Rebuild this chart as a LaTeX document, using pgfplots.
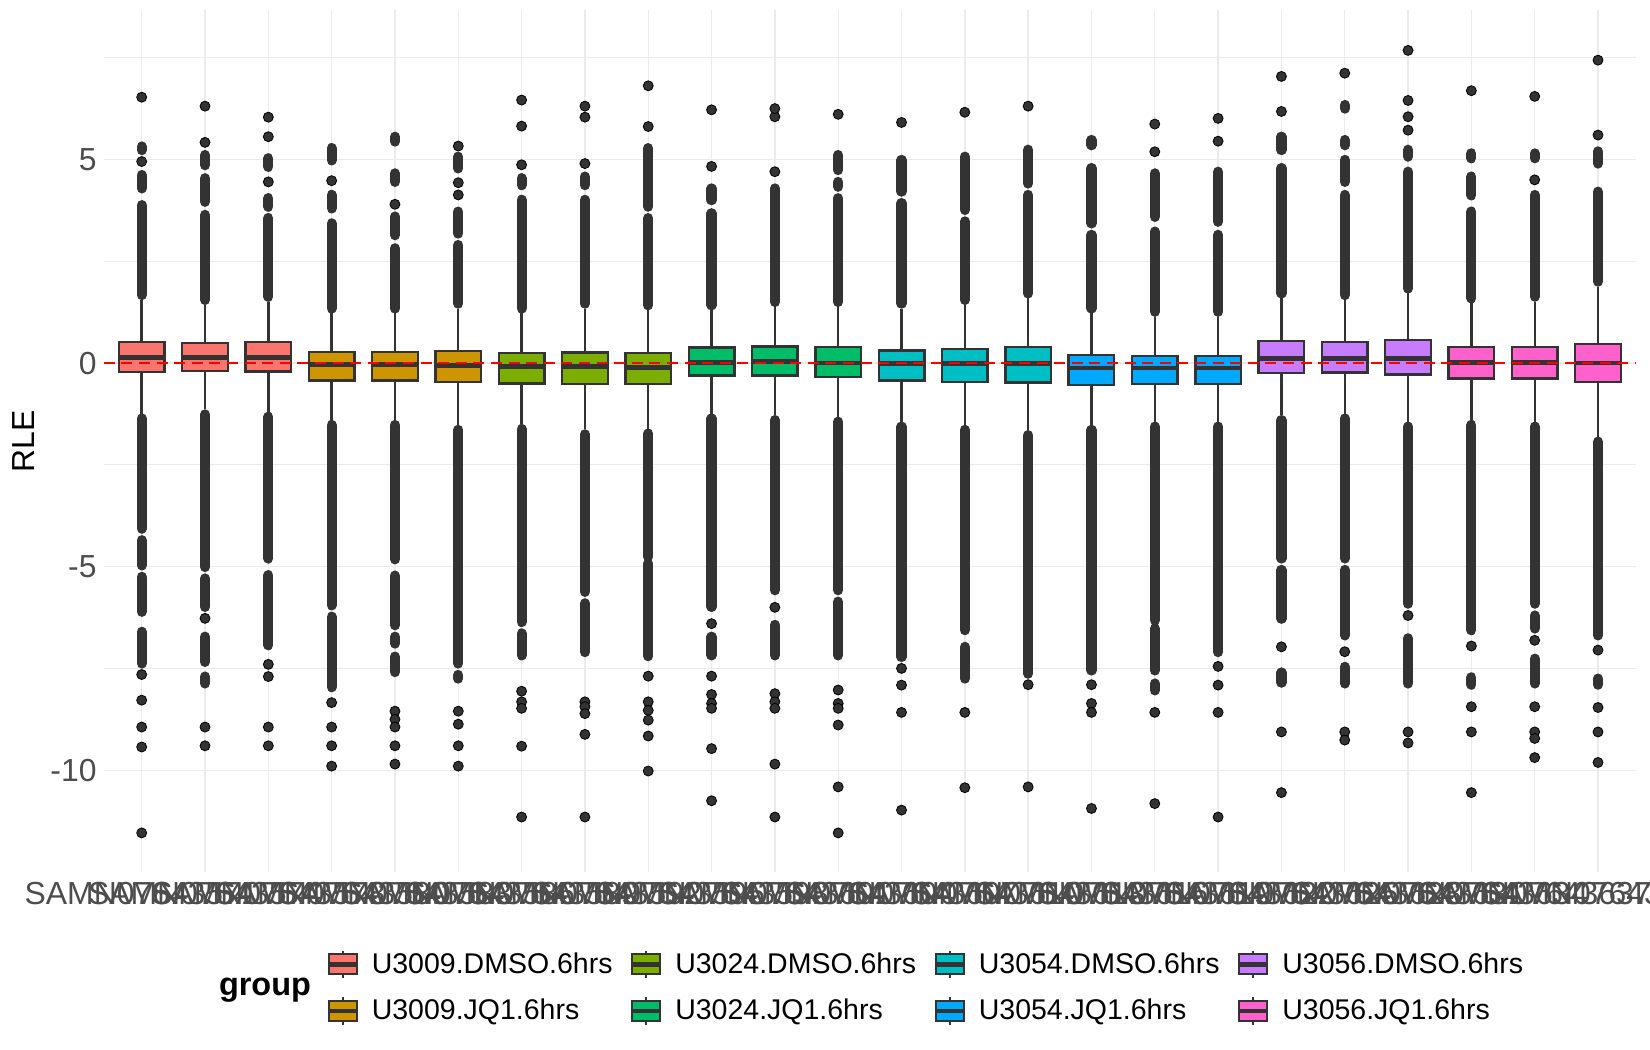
\documentclass[border=0pt]{standalone}
\usepackage{pgfplots}
\pgfplotsset{compat=1.18}
\usepgfplotslibrary{statistics}
\usepackage{fontspec}
\setmainfont{Liberation Sans}
\definecolor{c1}{HTML}{F8766D}
\definecolor{c2}{HTML}{CD9600}
\definecolor{c3}{HTML}{7CAE00}
\definecolor{c4}{HTML}{00BE67}
\definecolor{c5}{HTML}{00BFC4}
\definecolor{c6}{HTML}{00A9FF}
\definecolor{c7}{HTML}{C77CFF}
\definecolor{c8}{HTML}{FF61CC}
\definecolor{g20}{HTML}{333333}
\definecolor{g30}{HTML}{4D4D4D}
\definecolor{g92}{HTML}{EBEBEB}
% draw position, fill, lower whisker, lower quartile, median, upper quartile, upper whisker
\newcommand{\bx}[7]{\addplot[draw=g20, fill=#2, line width=1.2bp, forget plot,
  boxplot prepared={draw direction=y, draw position=#1, lower whisker=#3, lower quartile=#4, median=#5,
  upper quartile=#6, upper whisker=#7, box extend=0.72, whisker extend=0}] coordinates {};}
\pgfplotsset{
  seg/.style={draw=g20, line width=5.1bp, line cap=round, unbounded coords=jump, forget plot},
  dots/.style={only marks, mark=*, mark size=2.5bp, mark options={draw=none, fill=g20}, forget plot},
  boxleg/.style={legend image code/.code={
    \draw[draw=g20, line width=1.1bp] (7bp,5bp) -- (7bp,6.9bp) (7bp,-5bp) -- (7bp,-6.9bp);
    \draw[##1, draw=g20, line width=1.1bp] (0bp,-5bp) rectangle (14bp,5bp);
    \draw[draw=g20, line width=2.2bp] (0bp,0bp) -- (14bp,0bp);
  }},
}
\begin{document}
\begin{tikzpicture}
\useasboundingbox (0,0) rectangle (825bp,525bp);
\begin{axis}[
  at={(51.85bp,519.75bp)}, anchor=north west,
  scale only axis, width=766.15bp, height=430.75bp,
  xmin=0.4, xmax=24.6, ymin=-12.5, ymax=8.66,
  axis line style={draw=none},
  major tick length=0pt, minor tick length=0pt,
  xtick={1,...,24},
  xticklabels={SAMN07643571,SAMN07643574,SAMN07643578,SAMN07643580,SAMN07643583,SAMN07643586,SAMN07643589,SAMN07643592,SAMN07643595,SAMN07643598,SAMN07643601,SAMN07643604,SAMN07643607,SAMN07643610,SAMN07643613,SAMN07643616,SAMN07643619,SAMN07643622,SAMN07643625,SAMN07643628,SAMN07643631,SAMN07643634,SAMN07643637,SAMN07643640},
  ytick={-10,-5,0,5}, yticklabels={-10,-5,0,5},
  minor ytick={-7.5,-2.5,2.5,7.5},
  xmajorgrids, ymajorgrids, yminorgrids,
  major grid style={draw=g92, line width=0.7bp},
  minor grid style={draw=g92, line width=0.5bp},
  tick label style={font=\fontsize{16}{19}\selectfont, text=g30},
  xticklabel style={anchor=north, inner sep=0pt, yshift=-5bp},
  yticklabel style={anchor=east, inner sep=0pt, xshift=-3.4bp},
  ylabel={RLE},
  every axis y label/.style={at={(axis description cs:-0.052,0.5)}, rotate=90, anchor=center, font=\fontsize{16}{19}\selectfont},
  boxplot/draw direction=y,
  boxplot/every median/.style={line width=2.4bp},
  legend columns=4,
  legend cell align=left,
  legend style={at={(axis description cs:0.1451,-0.0894)}, anchor=north west, draw=none, fill=none,
    inner sep=0pt, column sep=6.5bp, row sep=8.5bp, font=\fontsize{14.3}{17}\selectfont,
    nodes={inner sep=0pt},
    /tikz/every even column/.append style={column sep=8.7bp}},
]
% boxes
\bx{1}{c1}{-1.24}{-0.22}{0.13}{0.52}{1.55}
\bx{2}{c1}{-1.14}{-0.20}{0.13}{0.50}{1.43}
\bx{3}{c1}{-1.20}{-0.21}{0.13}{0.52}{1.51}
\bx{4}{c2}{-1.40}{-0.43}{-0.04}{0.27}{1.22}
\bx{5}{c2}{-1.40}{-0.43}{-0.04}{0.27}{1.22}
\bx{6}{c2}{-1.52}{-0.47}{-0.05}{0.29}{1.34}
\bx{7}{c3}{-1.50}{-0.50}{-0.09}{0.24}{1.22}
\bx{8}{c3}{-1.63}{-0.52}{-0.09}{0.26}{1.34}
\bx{9}{c3}{-1.61}{-0.52}{-0.10}{0.25}{1.30}
\bx{10}{c4}{-1.24}{-0.31}{0.02}{0.38}{1.30}
\bx{11}{c4}{-1.28}{-0.31}{0.03}{0.41}{1.38}
\bx{12}{c4}{-1.32}{-0.34}{0.00}{0.39}{1.38}
\bx{13}{c5}{-1.44}{-0.43}{-0.01}{0.31}{1.34}
\bx{14}{c5}{-1.52}{-0.46}{-0.01}{0.34}{1.43}
\bx{15}{c5}{-1.65}{-0.48}{-0.01}{0.39}{1.59}
\bx{16}{c6}{-1.52}{-0.54}{-0.12}{0.20}{1.22}
\bx{17}{c6}{-1.44}{-0.52}{-0.12}{0.18}{1.14}
\bx{18}{c6}{-1.44}{-0.52}{-0.12}{0.18}{1.14}
\bx{19}{c7}{-1.28}{-0.24}{0.11}{0.54}{1.59}
\bx{20}{c7}{-1.24}{-0.23}{0.11}{0.52}{1.55}
\bx{21}{c7}{-1.44}{-0.28}{0.12}{0.57}{1.71}
\bx{22}{c8}{-1.40}{-0.38}{0.02}{0.40}{1.47}
\bx{23}{c8}{-1.44}{-0.38}{0.02}{0.40}{1.51}
\bx{24}{c8}{-1.81}{-0.47}{0.00}{0.47}{1.88}
% dense runs of outliers
\addplot[seg] coordinates {(1,1.67)(1,3.88)(1,nan)(1,4.29)(1,4.62)(1,nan)(1,5.23)(1,5.32)(1,nan)(1,-1.36)(1,-4.07)(1,nan)(1,-4.35)(1,-4.97)(1,nan)(1,-5.25)(1,-6.11)(1,nan)(1,-6.6)(1,-7.38)};
\addplot[seg] coordinates {(2,1.55)(2,3.64)(2,nan)(2,3.96)(2,4.54)(2,nan)(2,4.86)(2,5.11)(2,nan)(2,-1.26)(2,-5.01)(2,nan)(2,-5.29)(2,-5.99)(2,nan)(2,-6.72)(2,-7.34)(2,nan)(2,-7.7)(2,-7.87)};
\addplot[seg] coordinates {(3,1.63)(3,3.56)(3,nan)(3,3.84)(3,4.05)(3,nan)(3,4.82)(3,5.03)(3,nan)(3,-1.32)(3,-4.8)(3,nan)(3,-5.21)(3,-6.93)};
\addplot[seg] coordinates {(4,1.34)(4,3.43)(4,nan)(4,3.8)(4,4.13)(4,nan)(4,4.98)(4,5.28)(4,nan)(4,-1.52)(4,-5.95)(4,nan)(4,-6.23)(4,-7.96)};
\addplot[seg] coordinates {(5,1.34)(5,2.82)(5,nan)(5,3.14)(5,3.6)(5,nan)(5,4.45)(5,4.66)(5,nan)(5,5.44)(5,5.56)(5,nan)(5,-1.52)(5,-4.82)(5,nan)(5,-5.22)(5,-6.44)(5,nan)(5,-6.72)(5,-6.89)(5,nan)(5,-7.21)(5,-7.59)};
\addplot[seg] coordinates {(6,1.46)(6,2.9)(6,nan)(6,3.18)(6,3.72)(6,nan)(6,4.78)(6,5.07)(6,nan)(6,-1.64)(6,-7.38)(6,nan)(6,-7.66)(6,-7.75)};
\addplot[seg] coordinates {(7,1.34)(7,4.01)(7,nan)(7,4.37)(7,4.54)(7,nan)(7,-1.62)(7,-6.36)(7,nan)(7,-6.64)(7,-7.18)};
\addplot[seg] coordinates {(8,1.46)(8,4.01)(8,nan)(8,4.37)(8,4.58)(8,nan)(8,-1.75)(8,-5.62)(8,nan)(8,-5.9)(8,-7.1)};
\addplot[seg] coordinates {(9,1.42)(9,3.56)(9,nan)(9,3.84)(9,5.28)(9,nan)(9,-1.73)(9,-4.76)(9,nan)(9,-4.92)(9,-7.2)};
\addplot[seg] coordinates {(10,1.42)(10,3.68)(10,nan)(10,4.0)(10,4.29)(10,nan)(10,-1.36)(10,-5.99)(10,nan)(10,-6.72)(10,-7.18)};
\addplot[seg] coordinates {(11,1.5)(11,4.29)(11,nan)(11,-1.4)(11,-5.58)(11,nan)(11,-6.43)(11,-7.18)};
\addplot[seg] coordinates {(12,1.5)(12,4.05)(12,nan)(12,4.33)(12,4.45)(12,nan)(12,4.74)(12,5.11)(12,nan)(12,-1.44)(12,-5.58)(12,nan)(12,-5.86)(12,-7.18)};
\addplot[seg] coordinates {(13,1.46)(13,3.93)(13,nan)(13,4.21)(13,4.99)(13,nan)(13,-1.56)(13,-7.22)};
\addplot[seg] coordinates {(14,1.55)(14,3.48)(14,nan)(14,3.76)(14,5.07)(14,nan)(14,-1.64)(14,-6.56)(14,nan)(14,-6.97)(14,-7.75)};
\addplot[seg] coordinates {(15,1.71)(15,4.13)(15,nan)(15,4.41)(15,5.24)(15,nan)(15,-1.77)(15,-7.63)};
\addplot[seg] coordinates {(16,1.34)(16,3.15)(16,nan)(16,3.43)(16,4.79)(16,nan)(16,5.35)(16,5.48)(16,nan)(16,-1.64)(16,-7.55)};
\addplot[seg] coordinates {(17,1.26)(17,3.23)(17,nan)(17,3.59)(17,4.66)(17,nan)(17,-1.56)(17,-6.32)(17,nan)(17,-6.52)(17,-7.55)(17,nan)(17,-7.87)(17,-8.04)};
\addplot[seg] coordinates {(18,1.26)(18,3.15)(18,nan)(18,3.47)(18,4.7)(18,nan)(18,-1.56)(18,-7.1)};
\addplot[seg] coordinates {(19,1.71)(19,4.79)(19,nan)(19,5.23)(19,5.56)(19,nan)(19,-1.4)(19,-4.8)(19,nan)(19,-5.08)(19,-6.28)(19,nan)(19,-7.6)(19,-7.85)};
\addplot[seg] coordinates {(20,1.67)(20,4.13)(20,nan)(20,4.45)(20,4.99)(20,nan)(20,5.35)(20,5.48)(20,nan)(20,6.25)(20,6.34)(20,nan)(20,-1.36)(20,-4.8)(20,nan)(20,-5.08)(20,-6.69)(20,nan)(20,-7.46)(20,-7.87)};
\addplot[seg] coordinates {(21,1.83)(21,4.7)(21,nan)(21,5.07)(21,5.24)(21,nan)(21,-1.56)(21,-5.91)(21,nan)(21,-6.76)(21,-7.87)};
\addplot[seg] coordinates {(22,1.59)(22,3.72)(22,nan)(22,4.12)(22,4.58)(22,nan)(22,5.03)(22,5.15)(22,nan)(22,-1.52)(22,-6.56)(22,nan)(22,-7.72)(22,-7.9)};
\addplot[seg] coordinates {(23,1.63)(23,4.13)(23,nan)(23,5.03)(23,5.15)(23,nan)(23,-1.56)(23,-5.91)(23,nan)(23,-6.2)(23,-6.52)(23,nan)(23,-7.26)(23,-7.87)};
\addplot[seg] coordinates {(24,2.0)(24,4.21)(24,nan)(24,4.9)(24,5.2)(24,nan)(24,-1.93)(24,-6.69)(24,nan)(24,-7.75)(24,-7.9)};
% isolated outliers
\addplot[dots] coordinates {
(1,4.95)(1,6.53)(1,-7.65)(1,-8.28)(1,-8.94)(1,-9.43)(1,-11.54)
(2,5.42)(2,6.31)(2,-6.27)(2,-8.94)(2,-9.40)
(3,4.45)(3,5.56)(3,6.04)(3,-7.4)(3,-7.7)(3,-8.94)(3,-9.40)
(4,4.48)(4,-8.34)(4,-8.94)(4,-9.40)(4,-9.90)
(5,3.9)(5,-8.55)(5,-8.75)(5,-8.94)(5,-9.40)(5,-9.85)
(6,4.13)(6,4.43)(6,5.33)(6,-8.55)(6,-8.87)(6,-9.40)(6,-9.90)
(7,4.87)(7,5.82)(7,6.46)(7,-8.06)(7,-8.32)(7,-8.48)(7,-9.41)(7,-11.15)
(8,4.9)(8,6.04)(8,6.31)(8,-8.32)(8,-8.44)(8,-8.61)(8,-9.12)(8,-11.15)
(9,5.81)(9,6.81)(9,-7.69)(9,-8.32)(9,-8.53)(9,-8.77)(9,-9.16)(9,-10.02)
(10,4.83)(10,6.22)(10,-6.4)(10,-7.69)(10,-8.14)(10,-8.36)(10,-8.48)(10,-9.47)(10,-10.75)
(11,4.7)(11,6.05)(11,6.25)(11,-6.0)(11,-8.12)(11,-8.32)(11,-8.48)(11,-9.85)(11,-11.15)
(12,6.11)(12,-8.03)(12,-8.36)(12,-8.48)(12,-8.89)(12,-10.41)(12,-11.54)
(13,5.91)(13,-7.5)(13,-7.91)(13,-8.58)(13,-10.98)
(14,6.16)(14,-8.58)(14,-10.43)
(15,6.31)(15,-7.9)(15,-10.41)
(16,-7.9)(16,-8.36)(16,-8.58)(16,-10.94)
(17,5.19)(17,5.87)(17,-8.58)(17,-10.82)
(18,5.45)(18,6.01)(18,-7.45)(18,-7.91)(18,-8.58)(18,-11.15)
(19,6.18)(19,7.04)(19,-6.97)(19,-9.06)(19,-10.55)
(20,7.12)(20,-7.09)(20,-9.06)(20,-9.26)
(21,5.72)(21,6.05)(21,6.45)(21,7.68)(21,-6.2)(21,-9.06)(21,-9.33)
(22,6.69)(22,-6.95)(22,-8.44)(22,-9.06)(22,-10.55)
(23,4.5)(23,6.55)(23,-6.81)(23,-8.44)(23,-9.06)(23,-9.22)(23,-9.69)
(24,5.6)(24,7.44)(24,-7.05)(24,-8.46)(24,-9.06)(24,-9.81)
};
% reference line at zero
\addplot[draw=red, line width=1.4bp, dash pattern=on 5.5bp off 3.3bp, forget plot] coordinates {(0.4,0) (24.6,0)};
% legend
\addlegendimage{boxleg, fill=c1}\addlegendentry{U3009.DMSO.6hrs}
\addlegendimage{boxleg, fill=c3}\addlegendentry{U3024.DMSO.6hrs}
\addlegendimage{boxleg, fill=c5}\addlegendentry{U3054.DMSO.6hrs}
\addlegendimage{boxleg, fill=c7}\addlegendentry{U3056.DMSO.6hrs}
\addlegendimage{boxleg, fill=c2}\addlegendentry{U3009.JQ1.6hrs}
\addlegendimage{boxleg, fill=c4}\addlegendentry{U3024.JQ1.6hrs}
\addlegendimage{boxleg, fill=c6}\addlegendentry{U3054.JQ1.6hrs}
\addlegendimage{boxleg, fill=c8}\addlegendentry{U3056.JQ1.6hrs}
\end{axis}
\node[font=\bfseries\fontsize{16.3}{19}\selectfont] at (132.5bp,30bp) {group};
\end{tikzpicture}
\end{document}
